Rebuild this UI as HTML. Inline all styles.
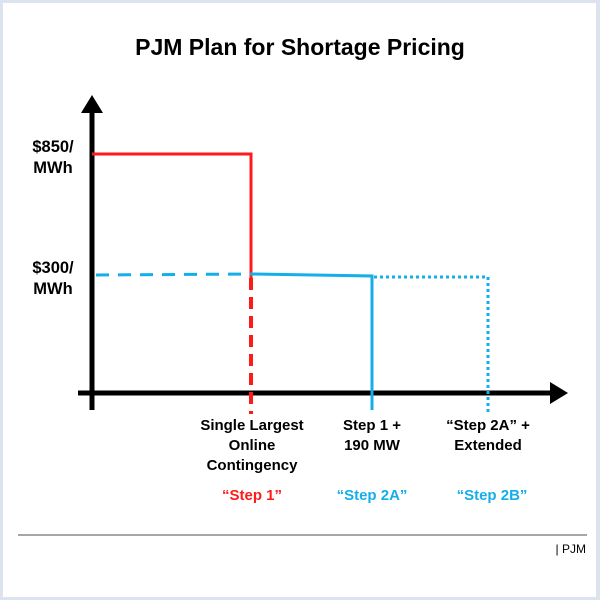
<!DOCTYPE html>
<html><head><style>
body{margin:0;width:600px;height:600px;background:#dce3ee;overflow:hidden}
#c{position:absolute;left:3px;top:3px;width:593px;height:594px;background:#fff}
svg{position:absolute;left:0;top:0}
</style></head><body><div id="c"></div>
<svg width="600" height="600" font-family="Liberation Sans, Arial, sans-serif">
<text x="300" y="55" text-anchor="middle" font-size="23" font-weight="bold">PJM Plan for Shortage Pricing</text>
<g stroke="#000" stroke-width="5" fill="none">
<line x1="92" y1="108" x2="92" y2="410"/>
<line x1="78" y1="393" x2="555" y2="393"/>
</g>
<polygon points="92,95 81,113 103,113" fill="#000"/>
<polygon points="568,393 550,382 550,404" fill="#000"/>
<g fill="none" stroke-width="3">
<polyline points="92,154 251,154 251,278" stroke="#ff1a1a"/>
<line x1="251" y1="278" x2="251" y2="414" stroke="#ff1a1a" stroke-width="4" stroke-dasharray="12,7"/>
<line x1="96" y1="275" x2="251" y2="274" stroke="#14aeea" stroke-dasharray="13,9"/>
<polyline points="251,274 372,276 372,410" stroke="#14aeea"/>
<polyline points="374,277 488,277 488,412" stroke="#14aeea" stroke-dasharray="3,3"/>
</g>
<g font-size="16.5" font-weight="bold" fill="#000" text-anchor="middle">
<text x="53" y="152">$850/</text>
<text x="53" y="173">MWh</text>
<text x="53" y="273">$300/</text>
<text x="53" y="294">MWh</text>
</g>
<g font-size="15" font-weight="bold" fill="#000">
<text x="252" y="430" text-anchor="middle">Single Largest</text>
<text x="252" y="450" text-anchor="middle">Online</text>
<text x="252" y="470" text-anchor="middle">Contingency</text>
<text x="372" y="430" text-anchor="middle">Step 1 +</text>
<text x="372" y="450" text-anchor="middle">190 MW</text>
<text x="488" y="430" text-anchor="middle">“Step 2A” +</text>
<text x="488" y="450" text-anchor="middle">Extended</text>
<text x="252" y="500" text-anchor="middle" fill="#ff1a1a">“Step 1”</text>
<text x="372" y="500" text-anchor="middle" fill="#14aeea">“Step 2A”</text>
<text x="492" y="500" text-anchor="middle" fill="#14aeea">“Step 2B”</text>
</g>
<line x1="18" y1="535" x2="587" y2="535" stroke="#888" stroke-width="1.5"/>
<text x="586" y="553" text-anchor="end" font-size="12" fill="#000">| PJM</text>
</svg>
</body></html>
